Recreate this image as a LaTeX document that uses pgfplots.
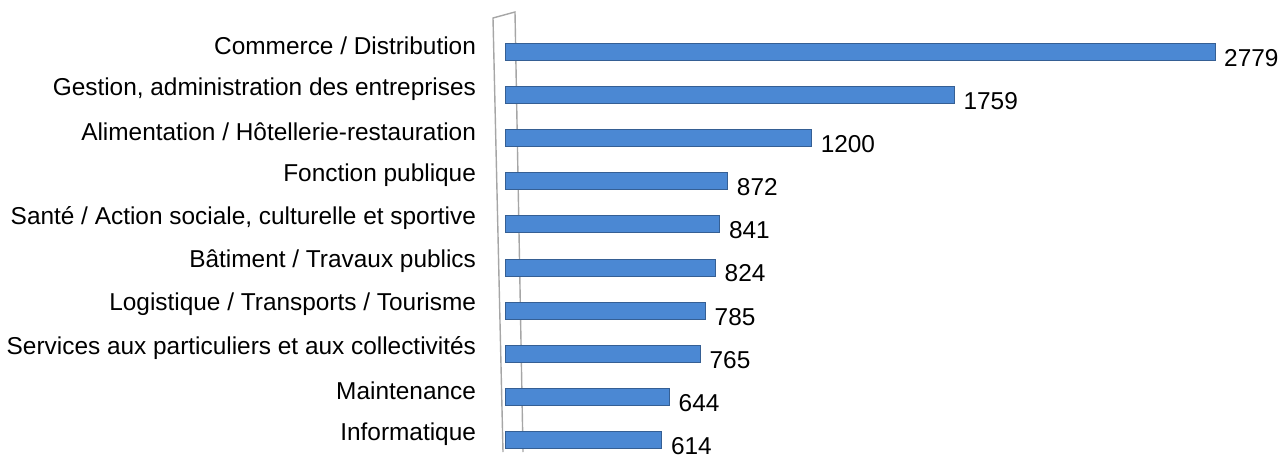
\documentclass[border=0pt]{standalone}
\usepackage{fontspec}
\setmainfont{Liberation Sans}
\usepackage{pgfplots}
\pgfplotsset{compat=1.18}
\usepackage{pgfplotstable}

\definecolor{barblue}{HTML}{4B88D3}
\definecolor{wallgray}{HTML}{A6A6A6}

% rows from bottom (0) to top (9)
\pgfplotstableread{
row value
0 614
1 644
2 765
3 785
4 824
5 841
6 872
7 1200
8 1759
9 2779
}\effectifs

\begin{document}
\begin{tikzpicture}
\begin{axis}[
    set layers,
    scale only axis,
    width=383.25pt, height=220pt,
    xbar, bar width=8.5pt,
    xmin=0, xmax=3000,
    ymin=-0.278, ymax=9.928,
    clip=false,
    axis line style={draw=none},
    major tick length=0pt,
    xtick=\empty,
    ytick={0,...,9},
    yticklabels={Informatique, Maintenance,
        Services aux particuliers et aux collectivités,
        Logistique / Transports / Tourisme,
        Bâtiment / Travaux publics,
        Santé / Action sociale{,} culturelle et sportive,
        Fonction publique,
        Alimentation / Hôtellerie-restauration,
        Gestion{,} administration des entreprises,
        Commerce / Distribution},
    yticklabel style={font=\fontsize{12.2}{14}\selectfont, xshift=-11pt, yshift=3pt},
    point meta=x,
    nodes near coords,
    nodes near coords align={horizontal},
    every node near coord/.append style={font=\fontsize{12.2}{14}\selectfont,
        black, anchor=west, xshift=1pt, yshift=-3pt,
        /pgf/number format/assume math mode=true,
        /pgf/number format/1000 sep={}},
]
% grey wall behind the bars
\begin{pgfonlayer}{axis background}
\draw[wallgray, line width=0.7pt]
    ([xshift=-1pt]rel axis cs:0,0) -- ([xshift=-6pt,yshift=-3pt]rel axis cs:0,1)
    -- ([xshift=5pt]rel axis cs:0,1) -- ([xshift=9pt]rel axis cs:0,0);
\end{pgfonlayer}

\addplot[fill=barblue, draw=barblue!70!black, line width=0.5pt]
    table[x=value, y=row] {\effectifs};

% picture extent
\path ([xshift=-252.5pt]rel axis cs:0,0);
\path ([xshift=8.25pt, yshift=6pt]rel axis cs:1,1);
\end{axis}
\end{tikzpicture}
\end{document}
